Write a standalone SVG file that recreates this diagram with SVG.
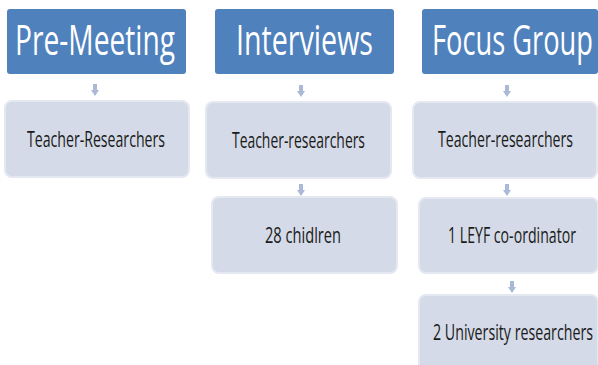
<svg xmlns="http://www.w3.org/2000/svg" width="598" height="365" viewBox="0 0 598 365">
<defs>
<style>
.hdr{fill:#4f81bd;}
.box{fill:#d4dae7;stroke:#e4e8f1;stroke-width:2;}
.ht{font-family:"Open Sans","Liberation Sans",sans-serif;font-size:42px;fill:#ffffff;}
.bt{font-family:"Open Sans","Liberation Sans",sans-serif;font-size:21px;fill:#1a1a1a;}
.arr{fill:#a9b9d6;}
</style>
<path id="ar" d="M-2,0 H2 V6 H4 L0,12 L-4,6 H-2 Z"/>
</defs>
<rect width="598" height="365" fill="#ffffff"/>
<g id="connectors" class="arr">
<use href="#ar" x="95" y="84"/>
<use href="#ar" x="301" y="85"/>
<use href="#ar" x="301" y="184"/>
<use href="#ar" x="507" y="85"/>
<use href="#ar" x="507" y="184"/>
<use href="#ar" x="512" y="281"/>
</g>
<g id="premeeting">
<rect class="hdr" x="7" y="9" width="179" height="65" rx="3"/>
<text class="ht" x="15" y="55" textLength="160" lengthAdjust="spacingAndGlyphs">Pre-Meeting</text>
</g>
<g id="pm-teachers">
<rect class="box" x="5" y="101" width="184" height="76" rx="7"/>
<text class="bt" x="27" y="147" textLength="138" lengthAdjust="spacingAndGlyphs">Teacher-Researchers</text>
</g>
<g id="interviews">
<rect class="hdr" x="215" y="9" width="179" height="65" rx="3"/>
<text class="ht" x="236" y="55" textLength="137" lengthAdjust="spacingAndGlyphs">Interviews</text>
</g>
<g id="int-teachers">
<rect class="box" x="206" y="102" width="185" height="76" rx="7"/>
<text class="bt" x="232" y="148" textLength="133" lengthAdjust="spacingAndGlyphs">Teacher-researchers</text>
</g>
<g id="int-children">
<rect class="box" x="212" y="197" width="185" height="76" rx="7"/>
<text class="bt" x="265" y="243" textLength="76" lengthAdjust="spacingAndGlyphs">28 chidlren</text>
</g>
<g id="focusgroup">
<rect class="hdr" x="422" y="9" width="176" height="65" rx="3"/>
<text class="ht" x="432" y="55" textLength="161" lengthAdjust="spacingAndGlyphs">Focus Group</text>
</g>
<g id="fg-teachers">
<rect class="box" x="413" y="102" width="184" height="76" rx="7"/>
<text class="bt" x="438" y="147" textLength="135" lengthAdjust="spacingAndGlyphs">Teacher-researchers</text>
</g>
<g id="fg-leyf">
<rect class="box" x="419" y="198" width="179" height="75" rx="7"/>
<text class="bt" x="448" y="243" textLength="128" lengthAdjust="spacingAndGlyphs">1 LEYF co-ordinator</text>
</g>
<g id="fg-university">
<rect class="box" x="419" y="295" width="179" height="78" rx="7"/>
<text class="bt" x="433" y="340" textLength="160" lengthAdjust="spacingAndGlyphs">2 University researchers</text>
</g>
</svg>
